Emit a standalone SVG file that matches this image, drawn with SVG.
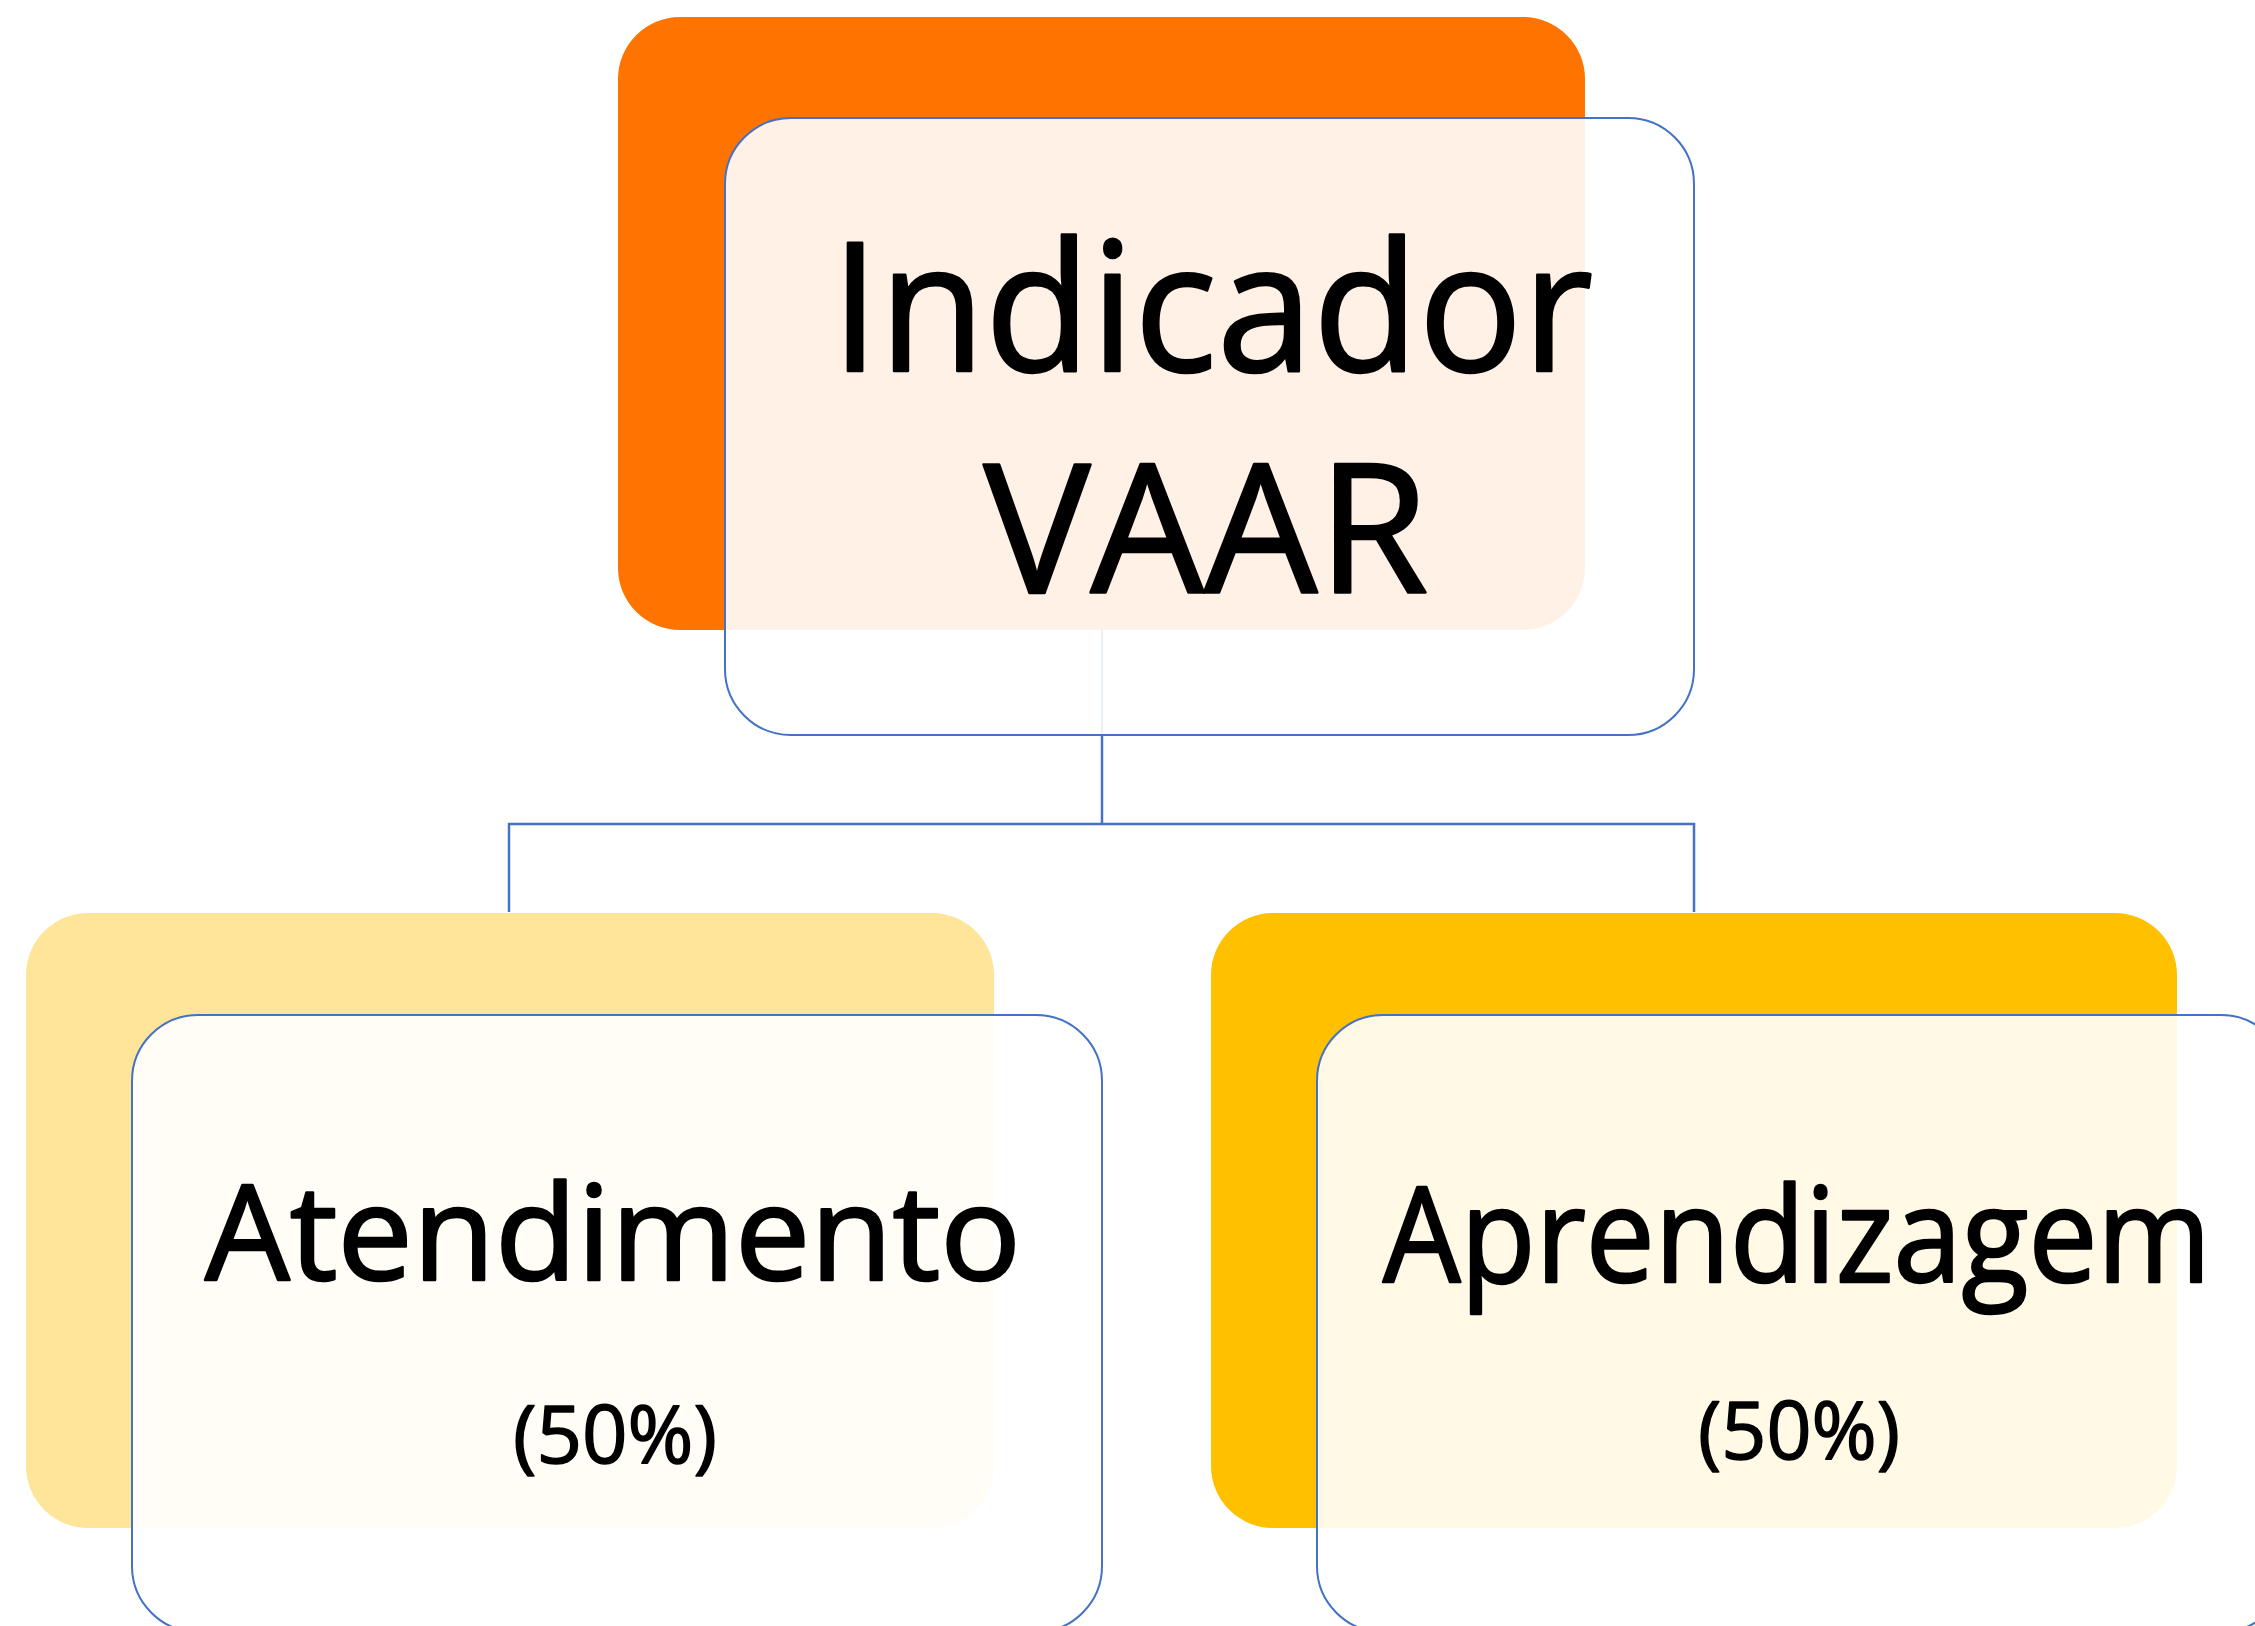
<svg xmlns="http://www.w3.org/2000/svg" width="2255" height="1626" viewBox="0 0 2255 1626">
<style>
.front{fill:#ffffff;fill-opacity:0.9;stroke:#4472C4;stroke-width:2}
.conn{fill:none;stroke:#4472C4;stroke-width:2.5}
.t{font-family:"Open Sans","Noto Sans","Liberation Sans",sans-serif;font-weight:400;fill:#000;stroke:#000;stroke-width:2.5;stroke-linejoin:round;text-anchor:middle}
.s{stroke-width:1.5}
</style>
<rect width="2255" height="1626" fill="#ffffff"/>
<g id="connectors">
<path class="conn" d="M1102,630 V824"/>
<path class="conn" d="M509,912 V824 H1694 V912"/>
</g>
<g id="node-indicador">
<rect x="618" y="17" width="967" height="613" rx="62" ry="62" fill="#FF7300"/>
<rect class="front" x="725" y="118" width="969" height="617" rx="66" ry="66"/>
<text class="t" x="1212" y="371" font-size="179" textLength="762" lengthAdjust="spacingAndGlyphs">Indicador</text>
<text class="t" x="1206" y="593" font-size="179" textLength="445" lengthAdjust="spacingAndGlyphs">VAAR</text>
</g>
<g id="node-atendimento">
<rect x="26" y="913" width="968" height="615" rx="62" ry="62" fill="#FFE599"/>
<rect class="front" x="132" y="1015" width="970" height="617" rx="66" ry="66"/>
<text class="t" x="613" y="1280" font-size="132" textLength="816" lengthAdjust="spacingAndGlyphs">Atendimento</text>
<text class="t s" x="615" y="1463" font-size="80" textLength="204" lengthAdjust="spacingAndGlyphs">(50%)</text>
</g>
<g id="node-aprendizagem">
<rect x="1211" y="913" width="966" height="615" rx="62" ry="62" fill="#FFC000"/>
<rect class="front" x="1317" y="1015" width="970" height="617" rx="66" ry="66"/>
<text class="t" x="1797" y="1282" font-size="132" textLength="828" lengthAdjust="spacingAndGlyphs">Aprendizagem</text>
<text class="t s" x="1799" y="1459" font-size="80" textLength="202" lengthAdjust="spacingAndGlyphs">(50%)</text>
</g>
</svg>
